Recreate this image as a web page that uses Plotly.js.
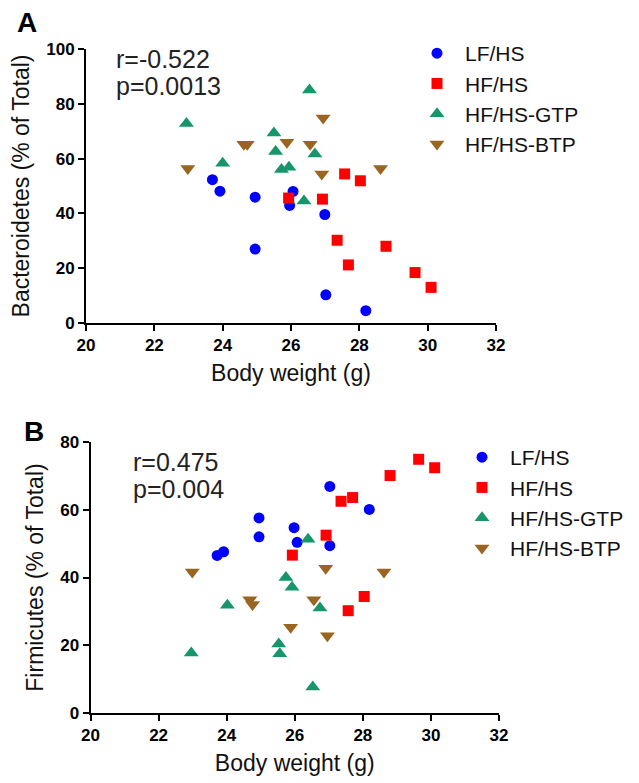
<!DOCTYPE html>
<html>
<head>
<meta charset="utf-8">
<script src="https://cdn.plot.ly/plotly-3.0.1.min.js"></script>
<style>html,body{margin:0;padding:0;background:#fff;}#chart{width:639px;height:783px;}</style>
</head>
<body>
<div id="chart"></div>
<script>
// ---- Data ----
var groups = ["LF/HS", "HF/HS", "HF/HS-GTP", "HF/HS-BTP"];

// Panel A: Bacteroidetes (% of Total) vs body weight (g)
var lfX_A  = [23.70, 23.92, 24.95, 24.95, 26.06, 25.96, 26.99, 27.02, 28.19];
var lfY_A  = [52.3, 48.1, 45.9, 27.0, 48.0, 42.9, 39.6, 10.3, 4.5];
var hfX_A  = [25.93, 26.92, 27.35, 27.57, 27.68, 28.03, 28.78, 29.63, 30.10];
var hfY_A  = [45.6, 45.2, 30.2, 54.4, 21.2, 51.9, 28.0, 18.4, 13.0];
var gtpX_A = [22.94, 24.00, 25.50, 25.55, 25.72, 25.94, 26.38, 26.54, 26.70];
var gtpY_A = [72.8, 58.3, 69.3, 62.6, 56.0, 56.8, 44.5, 85.0, 61.7];
var btpX_A = [22.98, 24.62, 24.72, 25.88, 26.56, 26.94, 26.90, 28.62];
var btpY_A = [56.4, 65.2, 65.2, 66.0, 65.2, 74.8, 54.4, 56.4];

// Panel B: Firmicutes (% of Total) vs body weight (g)
var lfX_B  = [23.72, 23.91, 24.95, 24.95, 25.98, 26.07, 27.03, 27.03, 28.19];
var lfY_B  = [46.5, 47.6, 57.6, 52.0, 54.7, 50.4, 66.9, 49.4, 60.1];
var hfX_B  = [25.93, 26.92, 27.36, 27.70, 27.57, 28.04, 28.80, 29.64, 30.11];
var hfY_B  = [46.6, 52.5, 62.5, 63.6, 30.2, 34.4, 70.1, 74.9, 72.4];
var gtpX_B = [22.96, 24.02, 25.53, 25.56, 25.74, 25.92, 26.39, 26.53, 26.74];
var gtpY_B = [17.7, 31.8, 20.4, 17.5, 40.0, 37.1, 51.3, 7.7, 31.0];
var btpX_B = [22.99, 24.68, 24.76, 25.88, 26.56, 26.91, 26.96, 28.62];
var btpY_B = [41.6, 33.4, 32.0, 25.3, 33.4, 42.7, 22.8, 41.6];

var statsA = ["r=-0.522", "p=0.0013"];
var statsB = ["r=0.475", "p=0.004"];

// ---- Styles ----
var FONT = "Liberation Sans, Arial, sans-serif";
var colors  = ["#0000ff", "#ff0000", "#16966a", "#9a6521"];
var symbols = ["circle", "square", "triangle-up", "triangle-down"];
var sizes   = [11, 11, 13, 13];

var dataA = [[lfX_A, lfY_A], [hfX_A, hfY_A], [gtpX_A, gtpY_A], [btpX_A, btpY_A]];
var dataB = [[lfX_B, lfY_B], [hfX_B, hfY_B], [gtpX_B, gtpY_B], [btpX_B, btpY_B]];

var traces = [];
dataA.forEach(function (d, i) {
  traces.push({
    type: "scatter", mode: "markers", x: d[0], y: d[1], name: groups[i],
    xaxis: "x", yaxis: "y", legend: "legend", legendgroup: "a" + i,
    cliponaxis: false,
    marker: {symbol: symbols[i], color: colors[i], size: sizes[i], line: {width: 0}}
  });
});
dataB.forEach(function (d, i) {
  traces.push({
    type: "scatter", mode: "markers", x: d[0], y: d[1], name: groups[i],
    xaxis: "x2", yaxis: "y2", legend: "legend2", legendgroup: "b" + i,
    cliponaxis: false,
    marker: {symbol: symbols[i], color: colors[i], size: sizes[i], line: {width: 0}}
  });
});

function xAxis(domain, anchor) {
  return {
    domain: domain, anchor: anchor, range: [20, 32], dtick: 2, tick0: 20,
    showline: true, linecolor: "#000", linewidth: 2, mirror: false,
    ticks: "outside", ticklen: 6, tickwidth: 2, tickcolor: "#000",
    showgrid: false, zeroline: false, automargin: false,
    tickfont: {family: FONT, size: 17, weight: "bold", color: "#000"},
    title: {text: "Body weight (g)", font: {family: FONT, size: 23, color: "#111"}, standoff: 10}
  };
}
function yAxis(domain, anchor, range, title) {
  return {
    domain: domain, anchor: anchor, range: range, dtick: 20, tick0: 0,
    showline: true, linecolor: "#000", linewidth: 2,
    ticks: "outside", ticklen: 6, tickwidth: 2, tickcolor: "#000",
    showgrid: false, zeroline: false, automargin: false,
    tickfont: {family: FONT, size: 17, weight: "bold", color: "#000"},
    title: {text: title, font: {family: FONT, size: 23, color: "#111"}, standoff: 10}
  };
}

var W = 639, H = 783;
function px(x) { return x / W; }
function py(y) { return (H - y) / H; }

var legendCommon = {
  orientation: "v", xanchor: "left", yanchor: "top",
  bgcolor: "rgba(0,0,0,0)", borderwidth: 0,
  font: {family: FONT, size: 21, color: "#111"},
  itemwidth: 46, tracegroupgap: 1, traceorder: "normal"
};

var layout = {
  width: W, height: H,
  margin: {l: 0, r: 0, t: 0, b: 0, autoexpand: false},
  paper_bgcolor: "#fff", plot_bgcolor: "#fff",
  showlegend: true,
  xaxis:  xAxis([px(86), px(496)], "y"),
  yaxis:  yAxis([py(323), py(49)], "x", [0, 100], "Bacteroidetes (% of Total)"),
  xaxis2: xAxis([px(90.5), px(499)], "y2"),
  yaxis2: yAxis([py(713), py(442)], "x2", [0, 80], "Firmicutes (% of Total)"),
  legend:  Object.assign({}, legendCommon, {x: px(409), y: py(33)}),
  legend2: Object.assign({}, legendCommon, {x: px(454), y: py(437)}),
  annotations: [
    {text: "<b>A</b>", xref: "paper", yref: "paper", x: px(27), y: py(23), xanchor: "center", yanchor: "middle",
     showarrow: false, font: {family: FONT, size: 28, color: "#000"}},
    {text: "<b>B</b>", xref: "paper", yref: "paper", x: px(34), y: py(431), xanchor: "center", yanchor: "middle",
     showarrow: false, font: {family: FONT, size: 28, color: "#000"}},
    {text: statsA[0], xref: "paper", yref: "paper", x: px(114), y: py(59), xanchor: "left", yanchor: "middle",
     showarrow: false, font: {family: FONT, size: 25, color: "#222"}},
    {text: statsA[1], xref: "paper", yref: "paper", x: px(114), y: py(86), xanchor: "left", yanchor: "middle",
     showarrow: false, font: {family: FONT, size: 25, color: "#222"}},
    {text: statsB[0], xref: "paper", yref: "paper", x: px(131), y: py(462), xanchor: "left", yanchor: "middle",
     showarrow: false, font: {family: FONT, size: 25, color: "#222"}},
    {text: statsB[1], xref: "paper", yref: "paper", x: px(131), y: py(489), xanchor: "left", yanchor: "middle",
     showarrow: false, font: {family: FONT, size: 25, color: "#222"}}
  ]
};

Plotly.newPlot("chart", traces, layout, {staticPlot: true, displayModeBar: false});
</script>
</body>
</html>
